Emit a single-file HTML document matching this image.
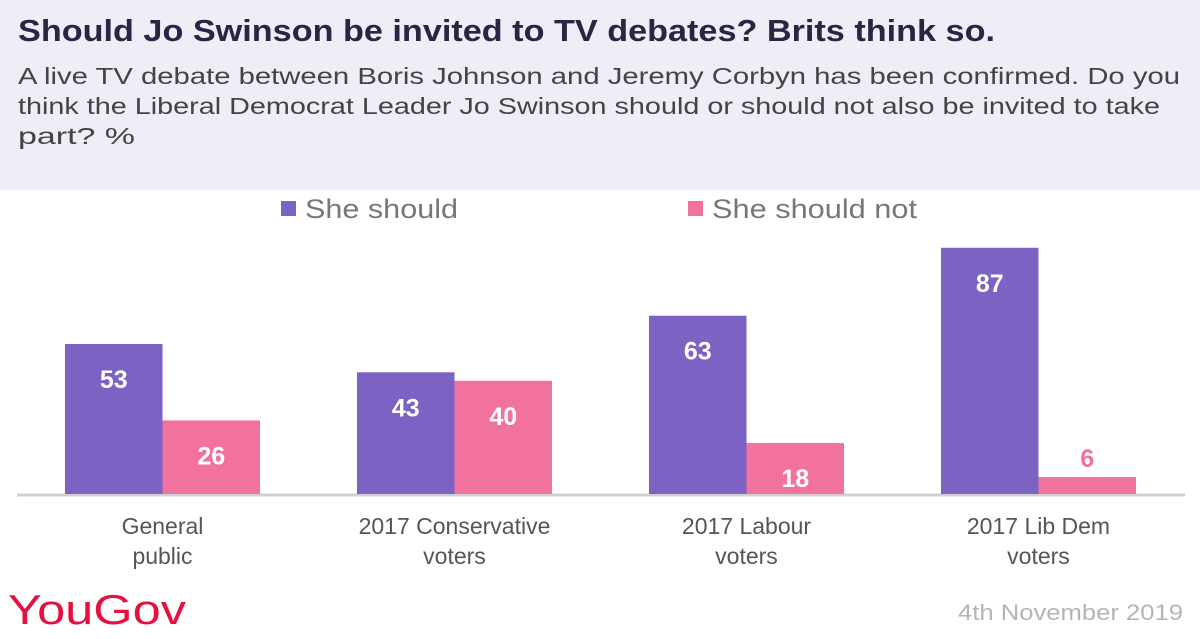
<!DOCTYPE html>
<html><head><meta charset="utf-8"><style>
body{margin:0;width:1200px;height:639px;overflow:hidden;background:#fff;font-family:"Liberation Sans",sans-serif;position:relative}
#hdr{position:absolute;left:0;top:0;width:1200px;height:190px;background:#efedf5}
</style></head><body>
<div id="hdr"></div>
<svg width="1200" height="190" style="position:absolute;left:0;top:0">
<text x="18" y="41" font-size="31" font-weight="bold" fill="#2c2445" textLength="977" lengthAdjust="spacingAndGlyphs">Should Jo Swinson be invited to TV debates? Brits think so.</text>
<g font-size="23" fill="#444">
<text x="18" y="84" textLength="1162" lengthAdjust="spacingAndGlyphs">A live TV debate between Boris Johnson and Jeremy Corbyn has been confirmed. Do you</text>
<text x="18" y="114" textLength="1142" lengthAdjust="spacingAndGlyphs">think the Liberal Democrat Leader Jo Swinson should or should not also be invited to take</text>
<text x="18" y="144" textLength="117" lengthAdjust="spacingAndGlyphs">part? %</text>
</g>
</svg>
<svg id="chart" width="1200" height="639" style="position:absolute;left:0;top:0">
<text x="8" y="624" font-size="42" fill="#e4113f" textLength="178" lengthAdjust="spacingAndGlyphs">YouGov</text>
<text x="958" y="620" font-size="22" fill="#b5b5b5" textLength="225" lengthAdjust="spacingAndGlyphs">4th November 2019</text>
</svg>
<script>
const categories=[["General","public"],["2017 Conservative","voters"],["2017 Labour","voters"],["2017 Lib Dem","voters"]];
const shouldVals=[53,43,63,87];
const shouldNotVals=[26,40,18,6];
const seriesNames=["She should","She should not"];
const colors=["#7b62c3","#f2729f"];
const NS="http://www.w3.org/2000/svg";
const svg=document.getElementById('chart');
const base=494, scale=2.83, x0=65, groupW=292, barW=97.5;
function y(v){return base-v*scale;}
function xBar(i,s){return x0+i*groupW+s*barW;}
function mk(t,a){const e=document.createElementNS(NS,t);for(const k in a)e.setAttribute(k,a[k]);svg.appendChild(e);return e;}
const axis=mk('line',{x1:17,x2:1185,y1:base+1,y2:base+1,stroke:'#d0d0d0','stroke-width':3});


[shouldVals,shouldNotVals].forEach((vals,s)=>{
 vals.forEach((v,i)=>{
  const r=mk('rect',{x:xBar(i,s),y:y(v),width:barW,height:v*scale,fill:colors[s]});
  
  
  const t=mk('text',{x:xBar(i,s)+barW/2,y:y(v)+44,'text-anchor':'middle','font-size':25,'font-weight':'bold',fill:v<10?colors[s]:'#fff'});
  if(v<10)t.setAttribute('y',y(v)-10);
  t.textContent=v;
  
  
 });
});
categories.forEach((c,i)=>{
 c.forEach((line,j)=>{
  const t=mk('text',{x:x0+i*groupW+barW,y:534+j*30,'text-anchor':'middle','font-size':23,fill:'#555'});
  t.textContent=line;
  
  
 });
});
const lx=[281,688];
const lw=[153,205];
seriesNames.forEach((n,s)=>{
 const r=mk('rect',{x:lx[s],y:201,width:15,height:15,fill:colors[s]});
 
 
 const t=mk('text',{x:lx[s]+24,y:218,'font-size':27,fill:'#777',textLength:lw[s],lengthAdjust:'spacingAndGlyphs'});
 t.textContent=n;
 
 
});
</script>
</body></html>
